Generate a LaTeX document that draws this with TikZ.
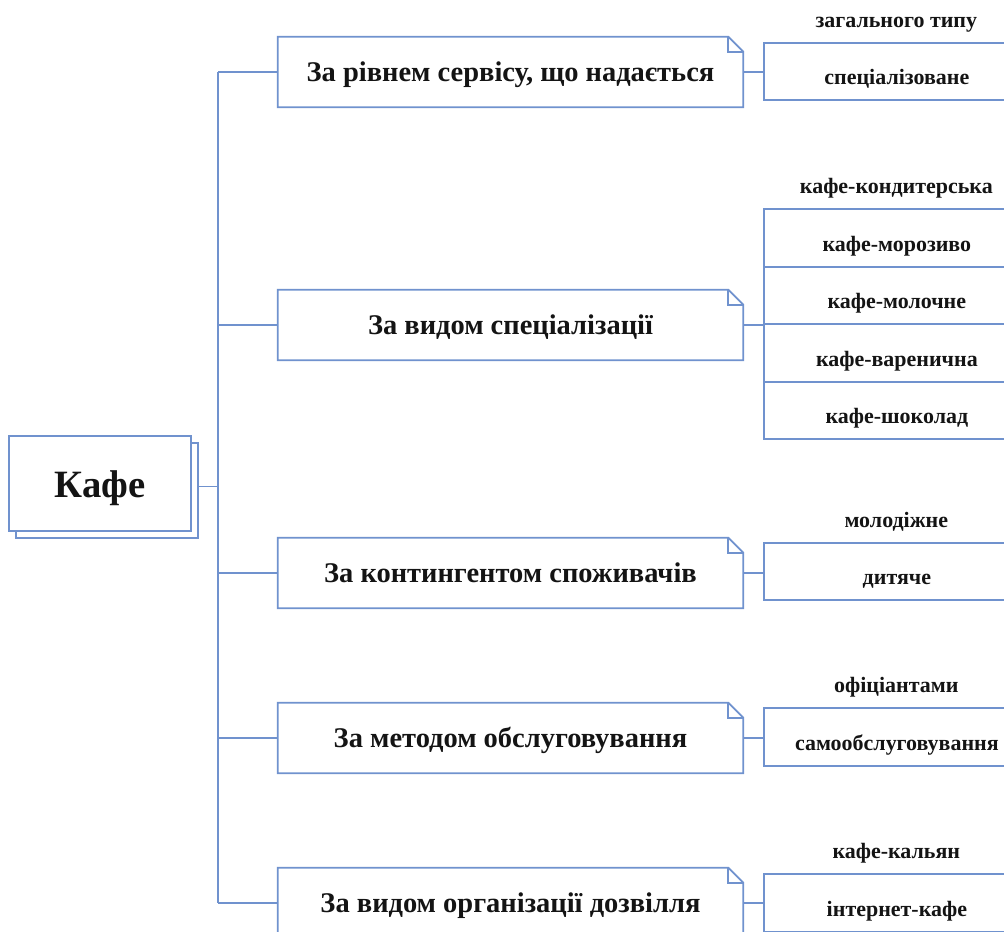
\documentclass[tikz,border=0pt]{standalone}
\usepackage{fontspec}
\setmainfont{Liberation Serif}
\definecolor{lnk}{RGB}{112,146,206}
\definecolor{ink}{RGB}{20,20,20}
\tikzset{
  edge/.style={draw=lnk, line width=1pt},
  rootbox/.style={draw=lnk, line width=1pt, fill=white, minimum width=3.64cm,
    minimum height=1.9cm, inner sep=0pt},
  catbox/.style={minimum width=9.3cm, minimum height=1.4cm, inner sep=0pt,
    font=\fontsize{16.2}{19}\selectfont\bfseries, text=ink, text height=0.39cm, text depth=0pt},
  item/.style={minimum width=5.32cm, minimum height=1.15cm, inner sep=0pt, anchor=west,
    font=\fontsize{12.5}{14}\selectfont\bfseries, text=ink, text height=0.53cm, text depth=0pt},
  itembox/.style={item, draw=lnk, line width=1pt},
}
% outline of a category box with a folded top-right corner
\newcommand\dogear[1]{%
  \draw[edge] ([xshift=-0.3cm]#1.north east) -- (#1.north west) -- (#1.south west)
    -- (#1.south east) -- ([yshift=-0.3cm]#1.north east) -- cycle;
  \draw[edge] ([xshift=-0.3cm]#1.north east) |- ([yshift=-0.3cm]#1.north east);}
\begin{document}
\begin{tikzpicture}
\useasboundingbox (0,0) rectangle (20.08,-18.64);
\clip (0,0) rectangle (20.08,-18.64);
\fill[white] (0,0) rectangle (20.08,-18.64);

% root
\node[rootbox] (rootback) at (2.14,-9.81) {};
\node[rootbox, font=\fontsize{22}{25}\selectfont\bfseries, text=ink,
  text height=0.54cm, text depth=0pt] (root) at (2.0,-9.67) {Кафе};

% categories
\node[catbox] (c1) at (10.21,-1.44) {За рівнем сервісу, що надається};
\node[catbox] (c2) at (10.21,-6.50) {За видом спеціалізації};
\node[catbox] (c3) at (10.21,-11.46) {За контингентом споживачів};
\node[catbox] (c4) at (10.21,-14.76) {За методом обслуговування};
\node[catbox] (c5) at (10.21,-18.06) {За видом організації дозвілля};
\foreach \n in {c1,c2,c3,c4,c5} {\dogear{\n}}

% lists
\node[item]    (l1a) at (15.26,-0.29) {загального типу};
\node[itembox] (l1b) at (15.26,-1.43) {спеціалізоване};

\node[item]    (l2a) at (15.26,-3.61) {кафе-кондитерська};
\node[itembox] (l2b) at (15.26,-4.76) {кафе-морозиво};
\node[itembox] (l2c) at (15.26,-5.91) {кафе-молочне};
\node[itembox] (l2d) at (15.26,-7.06) {кафе-варенична};
\node[itembox] (l2e) at (15.26,-8.21) {кафе-шоколад};

\node[item]    (l3a) at (15.26,-10.28) {молодіжне};
\node[itembox] (l3b) at (15.26,-11.43) {дитяче};

\node[item]    (l4a) at (15.26,-13.59) {офіціантами};
\node[itembox] (l4b) at (15.26,-14.74) {самообслуговування};

\node[item]    (l5a) at (15.26,-16.91) {кафе-кальян};
\node[itembox] (l5b) at (15.26,-18.06) {інтернет-кафе};

% connectors
\coordinate (trunk) at (4.36,0);
\draw[edge] (c1.west -| trunk) -- (c5.west -| trunk);
\draw[edge] ([yshift=0.08cm]rootback.east) -- ([yshift=0.08cm]rootback.east -| trunk);
\foreach \n in {c1,c2,c3,c4,c5} {\draw[edge] (\n.west) -- (\n.west -| trunk);}
\draw[edge] (c1.east) -- (c1.east -| l1b.west);
\draw[edge] (c2.east) -- (c2.east -| l2b.west);
\draw[edge] (c3.east) -- (c3.east -| l3b.west);
\draw[edge] (c4.east) -- (c4.east -| l4b.west);
\draw[edge] (c5.east) -- (c5.east -| l5b.west);
\end{tikzpicture}
\end{document}
